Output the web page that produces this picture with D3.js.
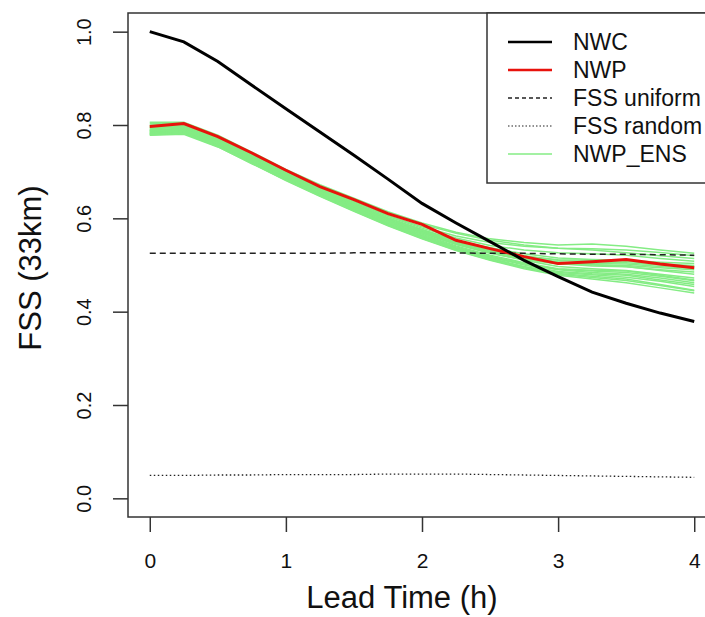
<!DOCTYPE html>
<html lang="en">
<head>
  <meta charset="UTF-8">
  <title>FSS (33km) vs lead time</title>
  <script src="https://d3js.org/d3.v7.min.js"></script>
  <style>
    body { margin: 0; background: #fff; }
    svg { display: block; font-family: "Liberation Sans", Arial, Helvetica, sans-serif; }
    .tick line { stroke: #333; stroke-width: 1.5px; }
    .axis-title { font-size: 31px; fill: #111; }
    .legend text { font-size: 23px; fill: #111; }
  </style>
</head>
<body>
  <div id="chart"></div>
  <script>
    // lead times (hours), every 15 minutes
    const leadTimes = [0, 0.25, 0.5, 0.75, 1, 1.25, 1.5, 1.75, 2, 2.25, 2.5, 2.75, 3, 3.25, 3.5, 3.75, 4];

    const nwc = [1.000, 0.978, 0.936, 0.885, 0.835, 0.785, 0.735, 0.684, 0.632, 0.590, 0.550, 0.510, 0.475, 0.442, 0.418, 0.397, 0.379];
    const nwp = [0.797, 0.803, 0.775, 0.740, 0.703, 0.668, 0.640, 0.610, 0.587, 0.553, 0.535, 0.518, 0.503, 0.507, 0.512, 0.502, 0.494];
    const fssUniform = [0.525, 0.525, 0.525, 0.525, 0.525, 0.525, 0.526, 0.526, 0.526, 0.526, 0.525, 0.525, 0.524, 0.523, 0.523, 0.522, 0.521];
    const fssRandom = [0.049, 0.049, 0.050, 0.050, 0.051, 0.051, 0.051, 0.052, 0.052, 0.052, 0.051, 0.050, 0.049, 0.048, 0.047, 0.046, 0.045];

    // ensemble members
    const nwpEns = [
      [0.806, 0.806, 0.778, 0.742, 0.705, 0.672, 0.643, 0.614, 0.590, 0.570, 0.556, 0.548, 0.543, 0.545, 0.540, 0.532, 0.525],
      [0.800, 0.802, 0.772, 0.736, 0.700, 0.666, 0.636, 0.606, 0.582, 0.562, 0.548, 0.540, 0.536, 0.535, 0.532, 0.527, 0.520],
      [0.795, 0.798, 0.768, 0.733, 0.696, 0.662, 0.632, 0.601, 0.576, 0.553, 0.537, 0.524, 0.515, 0.512, 0.510, 0.506, 0.503],
      [0.790, 0.793, 0.764, 0.729, 0.692, 0.658, 0.628, 0.598, 0.572, 0.548, 0.530, 0.515, 0.503, 0.498, 0.496, 0.490, 0.485],
      [0.788, 0.790, 0.762, 0.727, 0.690, 0.656, 0.625, 0.595, 0.569, 0.545, 0.526, 0.510, 0.497, 0.492, 0.488, 0.480, 0.472],
      [0.785, 0.788, 0.760, 0.725, 0.688, 0.654, 0.623, 0.592, 0.566, 0.541, 0.521, 0.505, 0.492, 0.489, 0.487, 0.478, 0.468],
      [0.783, 0.786, 0.758, 0.722, 0.686, 0.652, 0.620, 0.589, 0.562, 0.537, 0.517, 0.500, 0.486, 0.481, 0.478, 0.468, 0.458],
      [0.780, 0.783, 0.755, 0.720, 0.683, 0.649, 0.617, 0.586, 0.559, 0.534, 0.513, 0.496, 0.482, 0.476, 0.470, 0.458, 0.446],
      [0.778, 0.780, 0.753, 0.718, 0.681, 0.647, 0.615, 0.584, 0.556, 0.531, 0.510, 0.492, 0.478, 0.470, 0.462, 0.451, 0.440],
      [0.792, 0.795, 0.766, 0.731, 0.694, 0.660, 0.630, 0.600, 0.575, 0.552, 0.534, 0.520, 0.510, 0.507, 0.505, 0.500, 0.497],
      [0.786, 0.789, 0.761, 0.726, 0.689, 0.655, 0.624, 0.594, 0.568, 0.544, 0.525, 0.512, 0.502, 0.500, 0.499, 0.494, 0.490],
      [0.782, 0.785, 0.757, 0.721, 0.685, 0.651, 0.619, 0.588, 0.561, 0.536, 0.516, 0.502, 0.491, 0.487, 0.484, 0.476, 0.466],
      [0.803, 0.804, 0.775, 0.739, 0.702, 0.669, 0.640, 0.611, 0.587, 0.568, 0.553, 0.543, 0.536, 0.532, 0.526, 0.520, 0.514],
      [0.789, 0.791, 0.763, 0.728, 0.691, 0.657, 0.627, 0.597, 0.571, 0.547, 0.528, 0.514, 0.505, 0.503, 0.502, 0.497, 0.493],
      [0.784, 0.787, 0.759, 0.723, 0.687, 0.653, 0.621, 0.591, 0.564, 0.539, 0.519, 0.503, 0.490, 0.484, 0.480, 0.472, 0.462],
      [0.794, 0.796, 0.767, 0.732, 0.695, 0.661, 0.631, 0.601, 0.574, 0.549, 0.531, 0.517, 0.507, 0.501, 0.497, 0.488, 0.480],
      [0.781, 0.784, 0.756, 0.719, 0.684, 0.650, 0.618, 0.587, 0.560, 0.535, 0.514, 0.497, 0.484, 0.479, 0.474, 0.465, 0.454],
      [0.787, 0.790, 0.761, 0.726, 0.690, 0.656, 0.626, 0.596, 0.570, 0.546, 0.529, 0.518, 0.511, 0.510, 0.508, 0.502, 0.499],
      [0.779, 0.782, 0.754, 0.717, 0.682, 0.648, 0.616, 0.585, 0.557, 0.532, 0.511, 0.494, 0.480, 0.473, 0.467, 0.456, 0.445],
      [0.797, 0.800, 0.770, 0.734, 0.698, 0.664, 0.634, 0.604, 0.579, 0.558, 0.542, 0.532, 0.526, 0.524, 0.521, 0.514, 0.508]
    ];

    const xTicks = [0, 1, 2, 3, 4];
    const yTicks = [0, 0.2, 0.4, 0.6, 0.8, 1.0];
    const legendLabels = ["NWC", "NWP", "FSS uniform", "FSS random", "NWP_ENS"];

    const W = 705, H = 617;
    const plot = { left: 128, right: 716, top: 13, bottom: 517 };
    const ensColor = "#84ec84";
    const fontFamily = '"Liberation Sans", Arial, Helvetica, sans-serif';

    const svg = d3.select("#chart")
                  .append("svg")
                  .attr("width", W)
                  .attr("height", H);

    // R-style 4% padding around the data range
    const x = d3.scaleLinear().domain([-0.16, 4.16]).range([plot.left, plot.right]);
    const y = d3.scaleLinear().domain([-0.04, 1.04]).range([plot.bottom, plot.top]);

    svg.append("clipPath").attr("id", "clip")
       .append("rect")
       .attr("x", plot.left).attr("y", plot.top)
       .attr("width", plot.right - plot.left).attr("height", plot.bottom - plot.top);

    const line = d3.line()
                   .x((d, i) => x(leadTimes[i]))
                   .y(d => y(d));

    const g = svg.append("g").attr("clip-path", "url(#clip)");

    // ensemble members first, underneath everything
    g.selectAll(".ens")
     .data(nwpEns)
     .enter()
     .append("path")
     .attr("class", "ens")
     .attr("d", line)
     .attr("fill", "none")
     .attr("stroke", ensColor)
     .attr("stroke-width", 1.5);

    g.append("path").attr("d", line(fssUniform))
     .attr("fill", "none").attr("stroke", "#222").attr("stroke-width", 1.5)
     .attr("stroke-dasharray", "6,4");

    g.append("path").attr("d", line(fssRandom))
     .attr("fill", "none").attr("stroke", "#222").attr("stroke-width", 1.3)
     .attr("stroke-dasharray", "1.5,2.5");

    g.append("path").attr("d", line(nwp))
     .attr("fill", "none").attr("stroke", "#e8120c").attr("stroke-width", 3);

    g.append("path").attr("d", line(nwc))
     .attr("fill", "none").attr("stroke", "#000").attr("stroke-width", 3);

    // axes
    const xAxis = svg.append("g")
       .attr("transform", `translate(0,${plot.bottom})`)
       .call(d3.axisBottom(x).tickValues(xTicks).tickFormat(d3.format("d")).tickSize(15).tickPadding(21));
    xAxis.select(".domain").remove();
    xAxis.selectAll(".tick text")
         .attr("dy", "0.71em")
         .style("font-size", "21px")
         .style("font-family", fontFamily)
         .style("fill", "#111");

    const yAxis = svg.append("g")
       .attr("transform", `translate(${plot.left},0)`)
       .call(d3.axisLeft(y).tickValues(yTicks).tickFormat(d3.format(".1f")).tickSize(15));
    yAxis.select(".domain").remove();
    yAxis.selectAll(".tick text")
         .attr("x", null).attr("dy", null)
         .attr("text-anchor", "middle")
         .attr("transform", "translate(-37,0) rotate(-90)")
         .style("font-size", "20px")
         .style("font-family", fontFamily)
         .style("fill", "#111");

    // plot box
    svg.append("rect")
       .attr("x", plot.left).attr("y", plot.top)
       .attr("width", plot.right - plot.left).attr("height", plot.bottom - plot.top)
       .attr("fill", "none").attr("stroke", "#333").attr("stroke-width", 1.5);

    // axis titles
    svg.append("text")
       .attr("class", "axis-title")
       .attr("x", 402).attr("y", 608)
       .attr("text-anchor", "middle")
       .text("Lead Time (h)");

    svg.append("text")
       .attr("class", "axis-title")
       .attr("transform", "translate(41,268) rotate(-90)")
       .attr("text-anchor", "middle")
       .text("FSS (33km)");

    // legend
    const legendStyles = [
      { stroke: "#000", width: 2.5, dash: null },
      { stroke: "#e8120c", width: 2.5, dash: null },
      { stroke: "#222", width: 1.3, dash: "4,3" },
      { stroke: "#222", width: 1.2, dash: "1.5,2" },
      { stroke: ensColor, width: 1.5, dash: null }
    ];

    const legend = svg.append("g").attr("class", "legend");
    legend.append("rect")
          .attr("x", 487).attr("y", plot.top)
          .attr("width", 240).attr("height", 170)
          .attr("fill", "#fff").attr("stroke", "#333").attr("stroke-width", 1.5);

    const rows = legend.selectAll(".row")
          .data(legendLabels)
          .enter()
          .append("g")
          .attr("class", "row")
          .attr("transform", (d, i) => `translate(0,${42 + i * 28})`);

    rows.append("line")
        .attr("x1", 508).attr("x2", 552)
        .attr("stroke", (d, i) => legendStyles[i].stroke)
        .attr("stroke-width", (d, i) => legendStyles[i].width)
        .attr("stroke-dasharray", (d, i) => legendStyles[i].dash);

    rows.append("text")
        .attr("x", 573).attr("dy", "0.36em")
        .text(d => d);
  </script>
</body>
</html>
